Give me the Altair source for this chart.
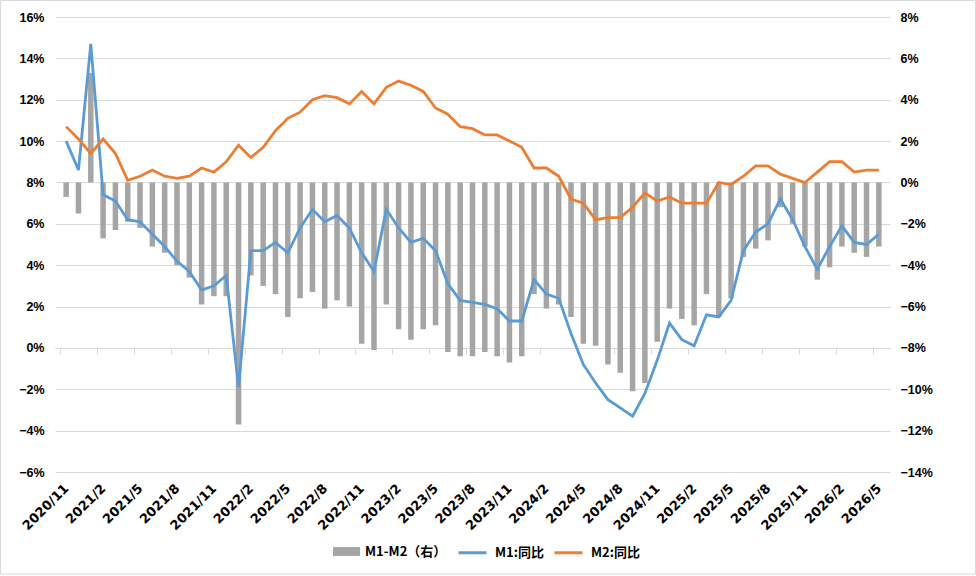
import json
import altair as alt
import pandas as pd

months = [
    "2020/11", "2020/12",
    "2021/1", "2021/2", "2021/3", "2021/4", "2021/5", "2021/6", "2021/7", "2021/8", "2021/9", "2021/10", "2021/11", "2021/12",
    "2022/1", "2022/2", "2022/3", "2022/4", "2022/5", "2022/6", "2022/7", "2022/8", "2022/9", "2022/10", "2022/11", "2022/12",
    "2023/1", "2023/2", "2023/3", "2023/4", "2023/5", "2023/6", "2023/7", "2023/8", "2023/9", "2023/10", "2023/11", "2023/12",
    "2024/1", "2024/2", "2024/3", "2024/4", "2024/5", "2024/6", "2024/7", "2024/8", "2024/9", "2024/10", "2024/11", "2024/12",
    "2025/1", "2025/2", "2025/3", "2025/4", "2025/5", "2025/6", "2025/7", "2025/8", "2025/9", "2025/10", "2025/11", "2025/12",
    "2026/1", "2026/2", "2026/3", "2026/4", "2026/5",
]

m1_yoy = [
    10.0, 8.6, 14.7, 7.4, 7.1, 6.2, 6.1, 5.5, 4.9, 4.2, 3.7, 2.8, 3.0, 3.5, -1.9, 4.7, 4.7, 5.1, 4.6, 5.8, 6.7, 6.1,
    6.4, 5.8, 4.6, 3.7, 6.7, 5.8, 5.1, 5.3, 4.7, 3.1, 2.3, 2.2, 2.1, 1.9, 1.3, 1.3,
    3.3, 2.6, 2.4, 0.7, -0.8, -1.7, -2.5, -2.9, -3.3, -2.2, -0.6, 1.2, 0.4, 0.1, 1.6, 1.5, 2.3, 4.7, 5.6, 6.0,
    7.2, 6.2, 4.9, 3.8, 4.9, 5.9, 5.1, 5.0, 5.5,
]

m2_yoy = [
    10.7, 10.1, 9.4, 10.1, 9.4, 8.1, 8.3, 8.6, 8.3, 8.2, 8.3, 8.7, 8.5, 9.0, 9.8, 9.2, 9.7, 10.5, 11.1, 11.4, 12.0, 12.2,
    12.1, 11.8, 12.4, 11.8, 12.6, 12.9, 12.7, 12.4, 11.6, 11.3, 10.7, 10.6, 10.3, 10.3, 10.0, 9.7,
    8.7, 8.7, 8.3, 7.2, 7.0, 6.2, 6.3, 6.3, 6.8, 7.5, 7.1, 7.3, 7.0, 7.0, 7.0, 8.0, 7.9, 8.3, 8.8, 8.8,
    8.4, 8.2, 8.0, 8.5, 9.0, 9.0, 8.5, 8.6, 8.6,
]

m1_minus_m2 = [
    -0.7, -1.5, 5.3, -2.7, -2.3, -1.9, -2.2, -3.1, -3.4, -4.0, -4.6, -5.9, -5.5, -5.5, -11.7, -4.5, -5.0, -5.4, -6.5, -5.6, -5.3, -6.1,
    -5.7, -6.0, -7.8, -8.1, -5.9, -7.1, -7.6, -7.1, -6.9, -8.2, -8.4, -8.4, -8.2, -8.4, -8.7, -8.4,
    -5.4, -6.1, -5.9, -6.5, -7.8, -7.9, -8.8, -9.2, -10.1, -9.7, -7.7, -6.1, -6.6, -6.9, -5.4, -6.5, -5.6, -3.6, -3.2, -2.8,
    -1.2, -2.0, -3.1, -4.7, -4.1, -3.1, -3.4, -3.6, -3.1,
]

bar_name = "M1-M2（右）"
line_names = ["M1:同比", "M2:同比"]
bar_color = "#A5A5A5"
line_colors = ["#5B9BD5", "#ED7D31"]

left_ticks = list(range(-6, 17, 2))
right_ticks = list(range(-14, 9, 2))
label_positions = list(range(0, len(months), 3))

n = len(months)
idx = list(range(n))
bars_df = pd.DataFrame({"idx": idx, "spread": m1_minus_m2, "name": [bar_name] * n})
lines_df = pd.DataFrame({
    "idx": idx + idx,
    "series": [line_names[0]] * n + [line_names[1]] * n,
    "value": m1_yoy + m2_yoy,
})

W, H = 835, 455
step = W / n
axis_offset = -H * (0 - left_ticks[0]) / (left_ticks[-1] - left_ticks[0])

grid_color = "#D9D9D9"
num_font = "Liberation Sans"
cjk_font = "Noto Sans CJK SC"

x_enc = alt.X(
    "idx:Q",
    scale=alt.Scale(domain=[-0.5, n - 0.5], nice=False, zero=False),
    axis=alt.Axis(
        orient="bottom",
        values=label_positions,
        labelExpr=json.dumps(months, ensure_ascii=False) + "[datum.value]",
        offset=axis_offset,
        tickOffset=-step / 2,
        labelOffset=step / 2,
        domainColor=grid_color,
        tickColor=grid_color,
        tickSize=6,
        grid=False,
        labelAngle=-45,
        labelAlign="right",
        labelBaseline="middle",
        labelPadding=132,
        labelFont="DejaVu Sans",
        labelFontWeight="bold",
        labelFontSize=13,
        labelColor="#000000",
        labelOverlap=False,
        labelFlush=False,
        title=None,
    ),
)

bars = alt.Chart(bars_df).mark_bar(width=5.5).encode(
    x=x_enc,
    y=alt.Y(
        "spread:Q",
        scale=alt.Scale(domain=[right_ticks[0], right_ticks[-1]], nice=False, zero=False),
        axis=alt.Axis(
            orient="right",
            values=right_ticks,
            labelExpr="format(datum.value, 'd') + '%'",
            grid=False,
            domain=False,
            ticks=False,
            labelPadding=10,
            labelFont=num_font,
            labelFontWeight="bold",
            labelFontSize=12.5,
            labelColor="#000000",
            title=None,
        ),
    ),
    color=alt.Color(
        "name:N",
        scale=alt.Scale(domain=[bar_name], range=[bar_color]),
        legend=alt.Legend(
            orient="none",
            legendX=278,
            legendY=521,
            title=None,
            symbolType="M-1,-0.33H1V0.33H-1Z",
            symbolSize=729,
            symbolStrokeWidth=0,
            symbolOpacity=1,
            labelFont=cjk_font,
            labelFontWeight="bold",
            labelFontSize=13,
            labelColor="#000000",
            labelOffset=5,
            padding=0,
        ),
    ),
)

lines = alt.Chart(lines_df).mark_line(strokeWidth=2.8).encode(
    x=x_enc,
    y=alt.Y(
        "value:Q",
        scale=alt.Scale(domain=[left_ticks[0], left_ticks[-1]], nice=False, zero=False),
        axis=alt.Axis(
            orient="left",
            values=left_ticks,
            labelExpr="format(datum.value, 'd') + '%'",
            grid=True,
            gridColor=grid_color,
            domain=False,
            ticks=False,
            labelPadding=11,
            labelFont=num_font,
            labelFontWeight="bold",
            labelFontSize=12.5,
            labelColor="#000000",
            title=None,
        ),
    ),
    color=alt.Color(
        "series:N",
        scale=alt.Scale(domain=line_names, range=line_colors),
        legend=alt.Legend(
            orient="none",
            legendX=402,
            legendY=520,
            direction="horizontal",
            title=None,
            symbolType="stroke",
            symbolSize=784,
            symbolStrokeWidth=3,
            labelFont=cjk_font,
            labelFontWeight="bold",
            labelFontSize=13,
            labelColor="#000000",
            labelOffset=7,
            columnPadding=4,
            padding=0,
        ),
    ),
)

frame = alt.Chart(pd.DataFrame({"k": [0]})).mark_rect(
    fillOpacity=0, stroke=grid_color, strokeWidth=1
).encode(
    x=alt.value(-54.5), x2=alt.value(920.5), y=alt.value(-16.5), y2=alt.value(557)
)

chart = (
    alt.layer(bars, lines, frame)
    .resolve_scale(y="independent", color="independent")
    .properties(
        width=W,
        height=H,
        padding={"left": 55, "top": 17, "right": 86, "bottom": 104},
        autosize=alt.AutoSizeParams(type="none"),
        background="#FFFFFF",
    )
    .configure_view(stroke="transparent")
)

chart.save("out.html", embed_options={"renderer": "svg", "actions": False})
